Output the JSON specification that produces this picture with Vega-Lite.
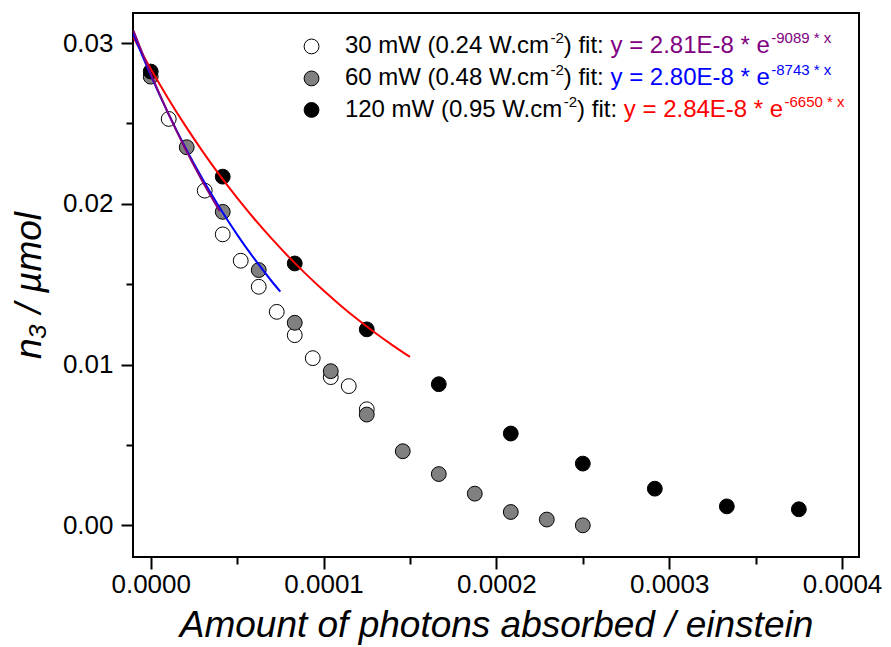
{
  "$schema": "https://vega.github.io/schema/vega-lite/v6.json",
  "width": 726,
  "height": 544,
  "autosize": {"type": "none"},
  "padding": {"left": 133, "top": 13, "right": 32, "bottom": 90},
  "background": "white",
  "config": {
    "font": "Liberation Sans",
    "view": {"stroke": "black", "strokeWidth": 2},
    "axis": {
      "grid": false,
      "domain": false,
      "ticks": true,
      "tickColor": "black",
      "tickWidth": 2,
      "tickOpacity": 1,
      "labelColor": "black",
      "titleColor": "black",
      "labelFont": "Liberation Sans",
      "titleFont": "Liberation Sans",
      "labelFontSize": 26,
      "titleFontSize": 37,
      "titleFontStyle": "italic",
      "titleFontWeight": "normal",
      "labelFlush": false,
      "labelOverlap": false,
      "labelBound": false
    }
  },
  "resolve": {"axis": {"x": "independent", "y": "independent"}},
  "datasets": {
    "points": [
      {"series": "30 mW", "x": 0.00001042, "y": 0.02528},
      {"series": "30 mW", "x": 0.00003125, "y": 0.02082},
      {"series": "30 mW", "x": 0.00004167, "y": 0.01810},
      {"series": "30 mW", "x": 0.00005208, "y": 0.01646},
      {"series": "30 mW", "x": 0.0000625, "y": 0.01484},
      {"series": "30 mW", "x": 0.00007292, "y": 0.01328},
      {"series": "30 mW", "x": 0.00008333, "y": 0.01183},
      {"series": "30 mW", "x": 0.00009375, "y": 0.01040},
      {"series": "30 mW", "x": 0.00010417, "y": 0.00922},
      {"series": "30 mW", "x": 0.00011458, "y": 0.00866},
      {"series": "30 mW", "x": 0.000125, "y": 0.00722},
      {"series": "60 mW", "x": 0.0, "y": 0.02791},
      {"series": "60 mW", "x": 0.00002083, "y": 0.02352},
      {"series": "60 mW", "x": 0.00004167, "y": 0.01950},
      {"series": "60 mW", "x": 0.0000625, "y": 0.01588},
      {"series": "60 mW", "x": 0.00008333, "y": 0.01260},
      {"series": "60 mW", "x": 0.00010417, "y": 0.00959},
      {"series": "60 mW", "x": 0.000125, "y": 0.00689},
      {"series": "60 mW", "x": 0.00014583, "y": 0.00461},
      {"series": "60 mW", "x": 0.00016667, "y": 0.00319},
      {"series": "60 mW", "x": 0.0001875, "y": 0.00197},
      {"series": "60 mW", "x": 0.00020833, "y": 0.00083},
      {"series": "60 mW", "x": 0.00022917, "y": 0.00036},
      {"series": "60 mW", "x": 0.00025, "y": 0.0},
      {"series": "120 mW", "x": 0.0, "y": 0.02823},
      {"series": "120 mW", "x": 0.00004167, "y": 0.02169},
      {"series": "120 mW", "x": 0.00008333, "y": 0.01629},
      {"series": "120 mW", "x": 0.000125, "y": 0.01219},
      {"series": "120 mW", "x": 0.00016667, "y": 0.00878},
      {"series": "120 mW", "x": 0.00020833, "y": 0.00571},
      {"series": "120 mW", "x": 0.00025, "y": 0.00384},
      {"series": "120 mW", "x": 0.00029167, "y": 0.00228},
      {"series": "120 mW", "x": 0.00033333, "y": 0.00118},
      {"series": "120 mW", "x": 0.000375, "y": 0.00100}
    ],
    "fit120": [
      {"x": -0.00001, "y": 0.030353},
      {"x": 0.0, "y": 0.0284},
      {"x": 0.00001, "y": 0.026573},
      {"x": 0.00002, "y": 0.024863},
      {"x": 0.00003, "y": 0.023264},
      {"x": 0.00004, "y": 0.021767},
      {"x": 0.00005, "y": 0.020366},
      {"x": 0.00006, "y": 0.019056},
      {"x": 0.00007, "y": 0.017830},
      {"x": 0.00008, "y": 0.016683},
      {"x": 0.00009, "y": 0.015610},
      {"x": 0.0001, "y": 0.014606},
      {"x": 0.00011, "y": 0.013666},
      {"x": 0.00012, "y": 0.012787},
      {"x": 0.00013, "y": 0.011964},
      {"x": 0.00014, "y": 0.011195},
      {"x": 0.00015, "y": 0.010474}
    ],
    "fit60": [
      {"x": -0.00001, "y": 0.030558},
      {"x": 0.0, "y": 0.028},
      {"x": 0.00001, "y": 0.025656},
      {"x": 0.00002, "y": 0.023508},
      {"x": 0.00003, "y": 0.021540},
      {"x": 0.00004, "y": 0.019737},
      {"x": 0.00005, "y": 0.018084},
      {"x": 0.00006, "y": 0.016571},
      {"x": 0.00007, "y": 0.015183},
      {"x": 0.000075, "y": 0.014534}
    ],
    "fit30": [
      {"x": -0.00001, "y": 0.030774},
      {"x": 0.0, "y": 0.0281},
      {"x": 0.00001, "y": 0.025659},
      {"x": 0.00002, "y": 0.023429},
      {"x": 0.00003, "y": 0.021394},
      {"x": 0.00004, "y": 0.019535}
    ],
    "legendSymbols": [
      {"series": "30 mW", "x": 0.00009305, "y": 0.02979},
      {"series": "60 mW", "x": 0.00009305, "y": 0.02780},
      {"series": "120 mW", "x": 0.00009305, "y": 0.02584}
    ],
    "legendText": [
      {"x": 0.00011234, "y": 0.02979, "text": "30 mW (0.24 W.cm", "part": "label", "level": "main"},
      {"x": 0.00023127, "y": 0.02979, "text": "-2", "part": "label", "level": "sup"},
      {"x": 0.00023897, "y": 0.02979, "text": ") fit:", "part": "label", "level": "main"},
      {"x": 0.00026601, "y": 0.02979, "text": "y = 2.81E-8 * e", "part": "fit30", "level": "main"},
      {"x": 0.00035900, "y": 0.02979, "text": "-9089 * x", "part": "fit30", "level": "sup"},
      {"x": 0.00011234, "y": 0.02780, "text": "60 mW (0.48 W.cm", "part": "label", "level": "main"},
      {"x": 0.00023127, "y": 0.02780, "text": "-2", "part": "label", "level": "sup"},
      {"x": 0.00023897, "y": 0.02780, "text": ") fit:", "part": "label", "level": "main"},
      {"x": 0.00026601, "y": 0.02780, "text": "y = 2.80E-8 * e", "part": "fit60", "level": "main"},
      {"x": 0.00035900, "y": 0.02780, "text": "-8743 * x", "part": "fit60", "level": "sup"},
      {"x": 0.00011234, "y": 0.02584, "text": "120 mW (0.95 W.cm", "part": "label", "level": "main"},
      {"x": 0.00023897, "y": 0.02584, "text": "-2", "part": "label", "level": "sup"},
      {"x": 0.00024667, "y": 0.02584, "text": ") fit:", "part": "label", "level": "main"},
      {"x": 0.00027371, "y": 0.02584, "text": "y = 2.84E-8 * e", "part": "fit120", "level": "main"},
      {"x": 0.00036670, "y": 0.02584, "text": "-6650 * x", "part": "fit120", "level": "sup"}
    ]
  },
  "layer": [
    {
      "data": {"name": "points"},
      "mark": {"type": "circle", "size": 220, "stroke": "black", "strokeWidth": 1, "opacity": 1},
      "encoding": {
        "x": {
          "field": "x",
          "type": "quantitative",
          "scale": {"domain": [-0.00001025, 0.0004098], "nice": false, "zero": false},
          "axis": {
            "orient": "bottom",
            "values": [0, 0.0001, 0.0002, 0.0003, 0.0004],
            "format": ".4f",
            "tickSize": 12,
            "labelPadding": 2,
            "title": "Amount of photons absorbed / einstein",
            "titlePadding": 10
          }
        },
        "y": {
          "field": "y",
          "type": "quantitative",
          "scale": {"domain": [-0.00197, 0.03187], "nice": false, "zero": false},
          "axis": {
            "orient": "left",
            "values": [0, 0.01, 0.02, 0.03],
            "format": ".2f",
            "tickSize": 12,
            "labelPadding": 8,
            "title": "n₃ / µmol",
            "titlePadding": 14
          }
        },
        "fill": {
          "field": "series",
          "type": "nominal",
          "scale": {"domain": ["30 mW", "60 mW", "120 mW"], "range": ["#ffffff", "#808080", "#000000"]},
          "legend": null
        }
      }
    },
    {
      "data": {"name": "legendSymbols"},
      "mark": {"type": "circle", "size": 220, "stroke": "black", "strokeWidth": 1, "opacity": 1},
      "encoding": {
        "x": {
          "field": "x",
          "type": "quantitative",
          "axis": {"orient": "bottom", "values": [0.00005, 0.00015, 0.00025, 0.00035], "tickSize": 7, "labels": false, "title": null}
        },
        "y": {
          "field": "y",
          "type": "quantitative",
          "axis": {"orient": "left", "values": [0.005, 0.015, 0.025], "tickSize": 7, "labels": false, "title": null}
        },
        "fill": {"field": "series", "type": "nominal", "legend": null}
      }
    },
    {
      "data": {"name": "fit120"},
      "mark": {"type": "line", "color": "#ff0000", "strokeWidth": 2, "interpolate": "monotone"},
      "encoding": {
        "x": {"field": "x", "type": "quantitative", "axis": null},
        "y": {"field": "y", "type": "quantitative", "axis": null}
      }
    },
    {
      "data": {"name": "fit60"},
      "mark": {"type": "line", "color": "#0000ff", "strokeWidth": 2, "interpolate": "monotone"},
      "encoding": {
        "x": {"field": "x", "type": "quantitative", "axis": null},
        "y": {"field": "y", "type": "quantitative", "axis": null}
      }
    },
    {
      "data": {"name": "fit30"},
      "mark": {"type": "line", "color": "#800080", "strokeWidth": 2, "interpolate": "monotone"},
      "encoding": {
        "x": {"field": "x", "type": "quantitative", "axis": null},
        "y": {"field": "y", "type": "quantitative", "axis": null}
      }
    },
    {
      "data": {"name": "legendText"},
      "transform": [{"filter": "datum.level == 'main'"}],
      "mark": {"type": "text", "align": "left", "baseline": "middle", "fontSize": 24, "font": "Liberation Sans"},
      "encoding": {
        "x": {"field": "x", "type": "quantitative", "axis": null},
        "y": {"field": "y", "type": "quantitative", "axis": null},
        "text": {"field": "text"},
        "color": {
          "field": "part",
          "type": "nominal",
          "scale": {"domain": ["label", "fit30", "fit60", "fit120"], "range": ["#000000", "#800080", "#0000ff", "#ff0000"]},
          "legend": null
        }
      }
    },
    {
      "data": {"name": "legendText"},
      "transform": [{"filter": "datum.level == 'sup'"}],
      "mark": {"type": "text", "align": "left", "baseline": "middle", "fontSize": 15, "dy": -8, "font": "Liberation Sans"},
      "encoding": {
        "x": {"field": "x", "type": "quantitative", "axis": null},
        "y": {"field": "y", "type": "quantitative", "axis": null},
        "text": {"field": "text"},
        "color": {"field": "part", "type": "nominal", "legend": null}
      }
    }
  ]
}
